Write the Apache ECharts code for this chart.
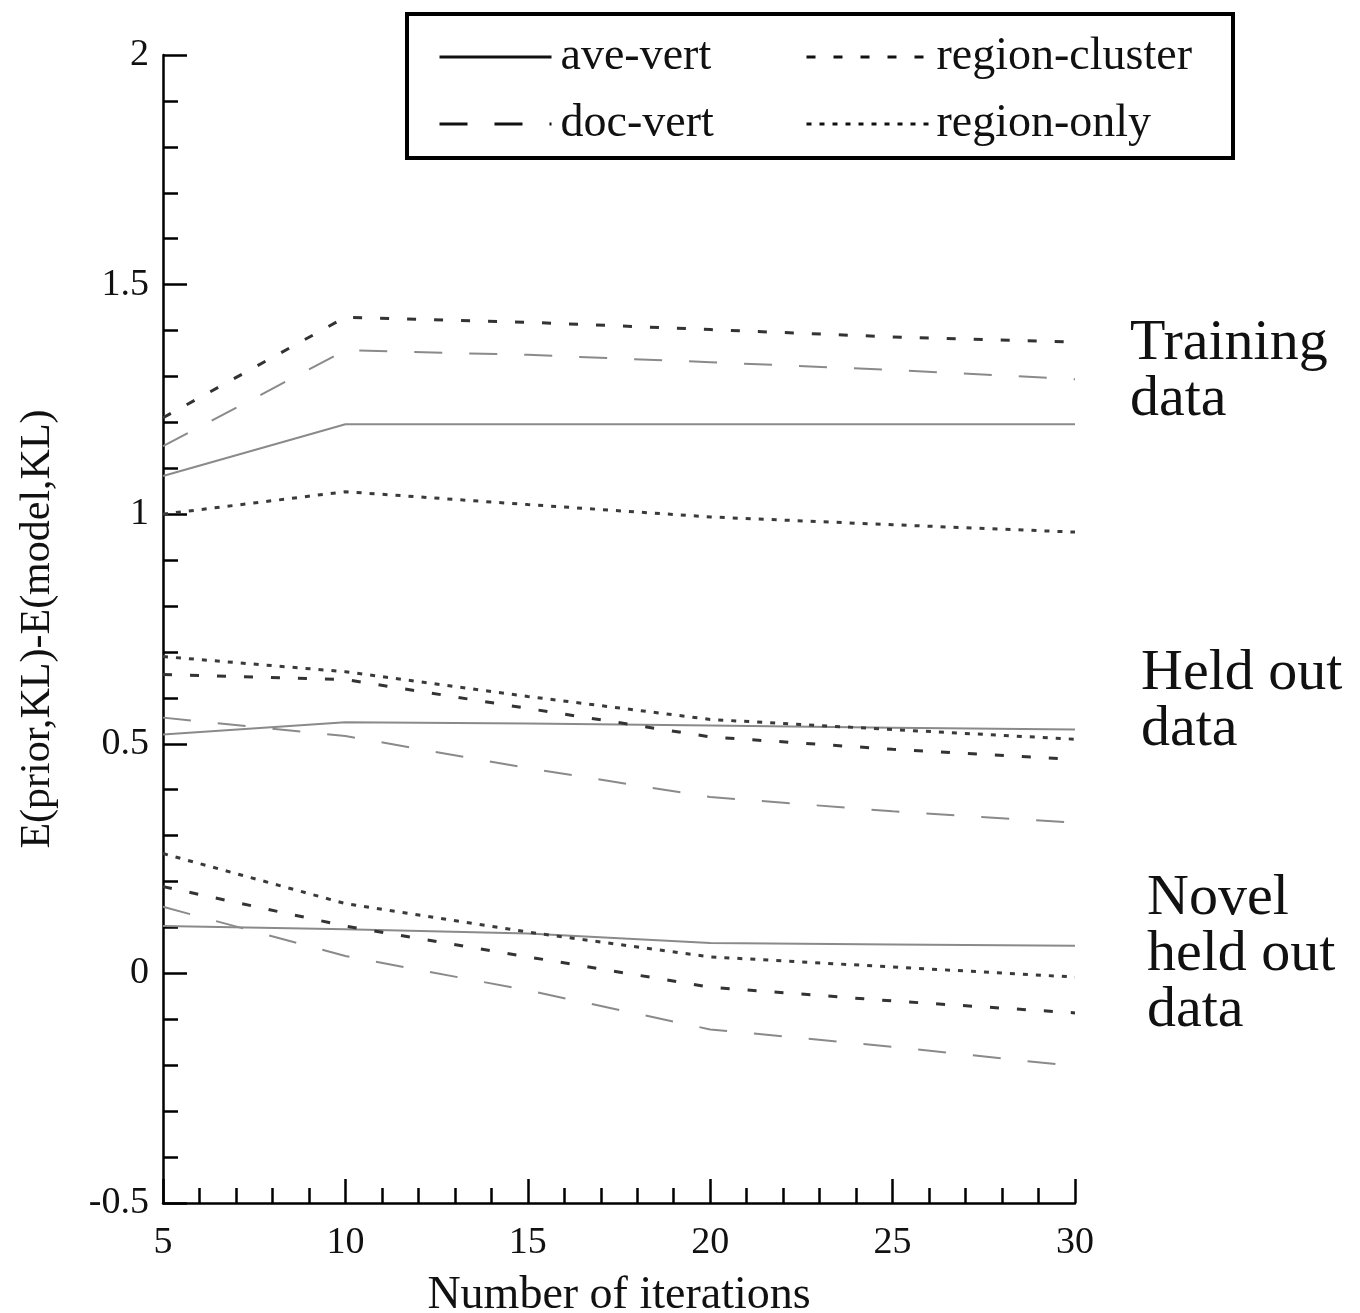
<!DOCTYPE html>
<html><head><meta charset="utf-8">
<script src="https://cdn.jsdelivr.net/npm/echarts@6/dist/echarts.min.js"></script>
<style>html,body{margin:0;padding:0;background:#fff}#c{width:1360px;height:1313px}</style>
</head><body><div id="c"></div>
<script>
const iterations = [5, 10, 15, 20, 25, 30];
const xTickLabels = ['5', '10', '15', '20', '25', '30'];
const yTickValues = [-0.5, 0, 0.5, 1, 1.5, 2];
const yTickLabels = ['-0.5', '0', '0.5', '1', '1.5', '2'];
const methods = ['ave-vert', 'doc-vert', 'region-cluster', 'region-only'];

const trainAveVert       = [1.083, 1.196, 1.196, 1.196, 1.196, 1.196];
const trainDocVert       = [1.148, 1.357, 1.347, 1.331, 1.314, 1.294];
const trainRegionCluster = [1.210, 1.429, 1.418, 1.402, 1.386, 1.375];
const trainRegionOnly    = [1.000, 1.049, 1.021, 0.994, 0.977, 0.961];

const heldAveVert        = [0.520, 0.547, 0.544, 0.540, 0.535, 0.531];
const heldDocVert        = [0.557, 0.517, 0.447, 0.384, 0.353, 0.328];
const heldRegionCluster  = [0.651, 0.640, 0.577, 0.515, 0.488, 0.466];
const heldRegionOnly     = [0.690, 0.657, 0.603, 0.553, 0.531, 0.510];

const novelAveVert       = [0.103, 0.096, 0.087, 0.066, 0.063, 0.060];
const novelDocVert       = [0.145, 0.038, -0.037, -0.122, -0.160, -0.202];
const novelRegionCluster = [0.189, 0.103, 0.036, -0.030, -0.060, -0.086];
const novelRegionOnly    = [0.261, 0.152, 0.090, 0.036, 0.014, -0.008];

const groupLabels = [
  {lines: ['Training', 'data'], x: 1130, y: 345},
  {lines: ['Held out', 'data'], x: 1141, y: 675},
  {lines: ['Novel', 'held out', 'data'], x: 1147, y: 900}
];

const FONT = 'Liberation Serif, Times New Roman, serif';
const styles = {
  'ave-vert':       {color: '#8a8a8a', width: 2, type: 'solid'},
  'doc-vert':       {color: '#8a8a8a', width: 2, type: [28, 27]},
  'region-cluster': {color: '#333333', width: 3, type: [9, 18]},
  'region-only':    {color: '#3a3a3a', width: 3, type: [5, 8]}
};

const groups = [
  {'ave-vert': trainAveVert, 'doc-vert': trainDocVert, 'region-cluster': trainRegionCluster, 'region-only': trainRegionOnly},
  {'ave-vert': heldAveVert, 'doc-vert': heldDocVert, 'region-cluster': heldRegionCluster, 'region-only': heldRegionOnly},
  {'ave-vert': novelAveVert, 'doc-vert': novelDocVert, 'region-cluster': novelRegionCluster, 'region-only': novelRegionOnly}
];

const series = [];
groups.forEach(g => {
  methods.forEach(m => {
    series.push({
      name: m, type: 'line', symbol: 'none', silent: true,
      data: iterations.map((x, i) => [x, g[m][i]]),
      lineStyle: {color: styles[m].color, width: styles[m].width, type: styles[m].type},
      itemStyle: {color: styles[m].color}
    });
  });
});

const graphics = [
  {type: 'rect', shape: {x: 407, y: 14, width: 826, height: 144},
   style: {fill: 'none', stroke: '#000', lineWidth: 4}, z: 10}
];
groupLabels.forEach(gl => {
  gl.lines.forEach((t, i) => {
    graphics.push({type: 'text', left: gl.x, top: gl.y + i * 56 - 30,
      style: {text: t, font: '58px ' + FONT, fill: '#111'}});
  });
});

function legendItem(name) {
  return {name: name, lineStyle: {color: '#111', width: 3},
    itemStyle: {color: 'rgba(0,0,0,0)', opacity: 0, borderWidth: 0}};
}

const chart = echarts.init(document.getElementById('c'));
chart.setOption({
  animation: false,
  backgroundColor: '#fff',
  grid: {left: 163, right: 285, top: 55, bottom: 110, containLabel: false, outerBoundsMode: 'none'},
  legend: [
    {orient: 'vertical', left: 433, top: 29, itemWidth: 112, itemHeight: 14, itemGap: 21,
     selectedMode: false, data: [legendItem('ave-vert'), legendItem('doc-vert')],
     textStyle: {fontFamily: FONT, fontSize: 46, lineHeight: 46, color: '#111', padding: [0, 0, 0, 4]}},
    {orient: 'vertical', left: 800, top: 29, itemWidth: 125, itemHeight: 14, itemGap: 21,
     selectedMode: false, data: [legendItem('region-cluster'), legendItem('region-only')],
     textStyle: {fontFamily: FONT, fontSize: 46, lineHeight: 46, color: '#111', padding: [0, 0, 0, 0]}}
  ],
  xAxis: {
    type: 'value', min: 5, max: 30, interval: 5,
    name: 'Number of iterations', nameLocation: 'middle', nameGap: 70,
    nameTextStyle: {fontFamily: FONT, fontSize: 46, color: '#111'},
    axisLine: {onZero: false, lineStyle: {color: '#000', width: 2.5}},
    axisTick: {inside: true, length: 24, lineStyle: {color: '#000', width: 2.5}},
    minorTick: {show: true, splitNumber: 5, length: 15, lineStyle: {color: '#000', width: 2.5}},
    splitLine: {show: false}, minorSplitLine: {show: false},
    axisLabel: {margin: 21, fontFamily: FONT, fontSize: 38, color: '#111',
      formatter: v => xTickLabels[iterations.indexOf(v)] ?? ''}
  },
  yAxis: {
    type: 'value', min: -0.5, max: 2, interval: 0.5,
    name: 'E(prior,KL)-E(model,KL)', nameLocation: 'middle', nameGap: 104,
    nameTextStyle: {fontFamily: FONT, fontSize: 42, color: '#111'},
    axisLine: {show: true, onZero: false, lineStyle: {color: '#000', width: 2.5}},
    axisTick: {show: true, inside: true, length: 24, lineStyle: {color: '#000', width: 2.5}},
    minorTick: {show: true, splitNumber: 5, length: 15, lineStyle: {color: '#000', width: 2.5}},
    splitLine: {show: false}, minorSplitLine: {show: false},
    axisLabel: {margin: 14, fontFamily: FONT, fontSize: 38, color: '#111',
      formatter: v => { const i = yTickValues.findIndex(t => Math.abs(t - v) < 1e-9); return i >= 0 ? yTickLabels[i] : ''; }}
  },
  graphic: graphics,
  series: series
});
</script></body></html>
